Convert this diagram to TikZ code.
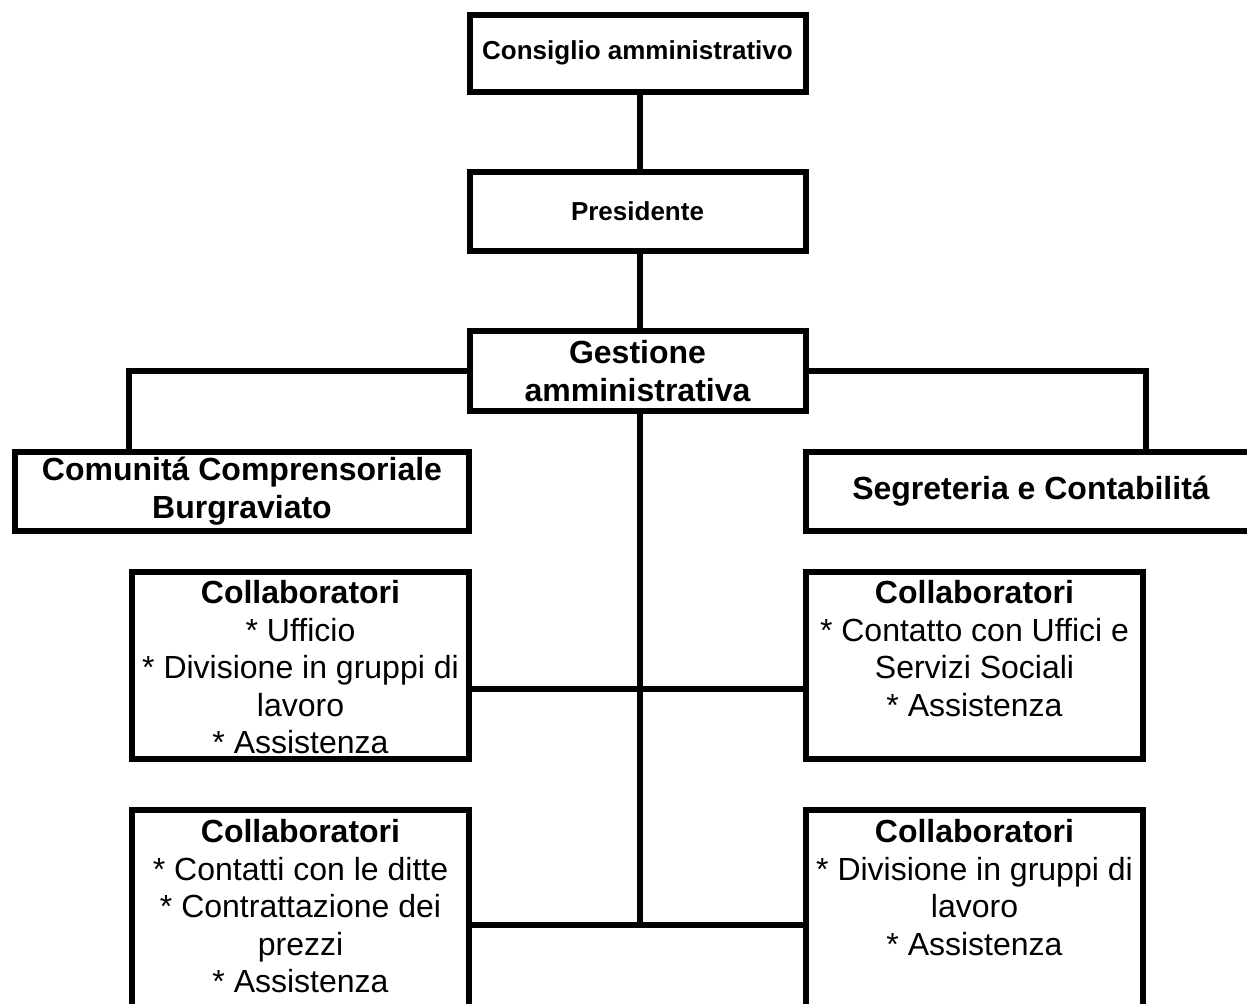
\documentclass[tikz,border=0pt]{standalone}
\usepackage{fontspec}
\setmainfont{Liberation Sans}
\usetikzlibrary{calc}
\begin{document}
\begin{tikzpicture}[x=0.5pt,y=-0.5pt,
  box/.style={draw=black, line width=3pt, inner sep=0pt, align=center},
  big/.style={font=\fontsize{16}{19}\selectfont\bfseries},
  small/.style={font=\fontsize{13}{16}\selectfont\bfseries},
  body/.style={inner sep=0pt, align=center, anchor=north, font=\fontsize{16}{18.75}\selectfont},
  wire/.style={draw=black, line width=3pt}]
\clip (0,0) rectangle (1247,1003);
\fill[white] (0,0) rectangle (1247,1003);

% top chain
\node[box, small, minimum width=168pt, minimum height=38.5pt] (cons) at (637.5,53) {Consiglio amministrativo};
\node[box, small, minimum width=168pt, minimum height=39.5pt] (pres) at (637.5,211.5) {Presidente};
\node[box, big, minimum width=168pt, minimum height=40pt] (gest) at (637.5,371) {Gestione\\amministrativa};

% second row
\node[box, big, minimum width=227pt, minimum height=39.5pt] (com) at (242,491.5) {Comunitá Comprensoriale\\Burgraviato};
\node[box, big, minimum width=225pt, minimum height=39.5pt] (seg) at (1031,491.5) {Segreteria e Contabilitá};

% collaborator boxes
\node[box, minimum width=168.5pt, minimum height=93.5pt] (lc1) at (300.5,665.5) {};
\node[box, minimum width=168.5pt, minimum height=93.5pt] (rc1) at (974.5,665.5) {};
\node[box, minimum width=168.5pt, minimum height=110pt] (lc2) at (300.5,920) {};
\node[box, minimum width=168.5pt, minimum height=110pt] (rc2) at (974.5,920) {};

\node[body] (lc1t) at (300.5,580) {\textbf{Collaboratori}\\{*} Ufficio\\{*} Divisione in gruppi di\\lavoro\\{*} Assistenza};
\node[body] (rc1t) at (974.5,580) {\textbf{Collaboratori}\\{*} Contatto con Uffici e\\Servizi Sociali\\{*} Assistenza};
\node[body] (lc2t) at (300.5,819) {\textbf{Collaboratori}\\{*} Contatti con le ditte\\{*} Contrattazione dei\\prezzi\\{*} Assistenza};
\node[body] (rc2t) at (974.5,819) {\textbf{Collaboratori}\\{*} Divisione in gruppi di\\lavoro\\{*} Assistenza};

% junctions
\coordinate (j1) at (640,689);
\coordinate (j2) at (640,925);

% connectors
\draw[wire] (cons.south -| j1) -- (pres.north -| j1);
\draw[wire] (pres.south -| j1) -- (gest.north -| j1);
\draw[wire] (gest.west) -| (lc1.west |- com.north);
\draw[wire] (gest.east) -| (rc1.east |- seg.north);
\draw[wire] (gest.south -| j1) -- (j2);
\draw[wire] (lc1.east |- j1) -- (rc1.west |- j1);
\draw[wire] (lc2.east |- j2) -- (rc2.west |- j2);
\end{tikzpicture}
\end{document}
